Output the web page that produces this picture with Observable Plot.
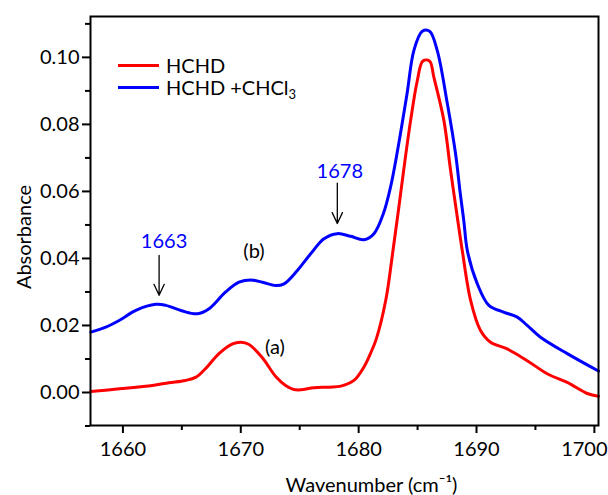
<!DOCTYPE html>
<html>
<head>
<meta charset="utf-8">
<script src="https://cdn.jsdelivr.net/npm/d3@7"></script>
<script src="https://cdn.jsdelivr.net/npm/@observablehq/plot@0.6"></script>
<style>
  body { margin: 0; background: #fff; }
  #wrap { position: relative; width: 608px; height: 495px; font-family: Lato, sans-serif; }
  #legend { position: absolute; left: 118px; top: 54px; font-size: 20px; color: #000; }
  .row { display: flex; align-items: center; height: 22px; white-space: nowrap; }
  .sw { width: 41px; height: 3px; margin-right: 7px; }
  sub { font-size: 13px; line-height: 0; vertical-align: -4px; }
</style>
</head>
<body>
<div id="wrap"></div>
<script>
// Series (a): HCHD
const wavenumberA = [1657.27, 1659.7, 1662.5, 1663.9, 1665.3, 1666.2, 1667.0, 1668.15, 1669.3, 1670.0, 1670.7, 1671.8, 1673.0, 1673.8, 1674.5, 1675.1, 1676.2, 1677.5, 1678.5, 1679.6, 1680.45, 1681.0, 1681.5, 1682.3, 1682.9, 1683.4, 1683.82, 1684.41, 1684.98, 1685.45, 1686.02, 1686.38, 1687.23, 1687.8, 1688.37, 1688.79, 1689.5, 1690.34, 1691.19, 1692.6, 1694.3, 1696.0, 1697.7, 1699.4, 1700.35];
const absorbanceA = [0.0003, 0.0011, 0.0021, 0.0029, 0.0036, 0.0046, 0.0071, 0.0116, 0.0145, 0.0150, 0.0143, 0.0105, 0.0046, 0.0021, 0.0009, 0.0008, 0.0014, 0.0016, 0.0019, 0.0036, 0.0076, 0.0116, 0.0160, 0.0275, 0.0420, 0.0550, 0.0663, 0.0812, 0.0931, 0.0989, 0.0989, 0.0941, 0.0812, 0.0663, 0.0523, 0.0424, 0.0275, 0.0185, 0.0150, 0.0130, 0.0095, 0.0056, 0.0030, -0.0003, -0.0011];

// Series (b): HCHD + CHCl3
const wavenumberB = [1657.28, 1658.55, 1659.68, 1661.10, 1662.79, 1663.64, 1665.05, 1666.32, 1667.31, 1668.72, 1669.85, 1670.84, 1671.83, 1672.96, 1673.67, 1674.80, 1675.93, 1677.06, 1678.19, 1679.32, 1680.45, 1681.3, 1682.1, 1682.7, 1683.3, 1684.1, 1684.69, 1685.40, 1686.02, 1686.67, 1687.52, 1688.22, 1688.6, 1688.93, 1689.22, 1690.06, 1691.05, 1692.29, 1693.46, 1694.30, 1695.43, 1697.70, 1700.35];
const absorbanceB = [0.0180, 0.0195, 0.0215, 0.0245, 0.0263, 0.0260, 0.0243, 0.0235, 0.0250, 0.0300, 0.0329, 0.0336, 0.0329, 0.0319, 0.0324, 0.0364, 0.0414, 0.0459, 0.0474, 0.0466, 0.0456, 0.0474, 0.0534, 0.0612, 0.0722, 0.0890, 0.1021, 0.1078, 0.1078, 0.1020, 0.0863, 0.0713, 0.0600, 0.0510, 0.0424, 0.0325, 0.0260, 0.0240, 0.0225, 0.0200, 0.0165, 0.0116, 0.0064];

const seriesNames = ["HCHD", "HCHD +CHCl3"];
const seriesColors = ["#ff0000", "#0000ff"];

// Axis ticks
const xTicks = [1660, 1670, 1680, 1690, 1700];
const xMinorTicks = [1665, 1675, 1685, 1695];
const yTicks = [0.00, 0.02, 0.04, 0.06, 0.08, 0.10];
const yMinorTicks = [-0.01, 0.01, 0.03, 0.05, 0.07, 0.09, 0.11];

// Peak annotations (blue numbers with arrows)
const peakText = ["1663", "1678"];
const peakTextX = [1663.49, 1678.4];
const peakTextY = [0.0449, 0.0658];
const arrowX = [1663.07, 1678.19];
const arrowTop = [0.0409, 0.0625];
const arrowTip = [0.0290, 0.0504];

// Curve labels
const curveText = ["(a)", "(b)"];
const curveTextX = [1672.9, 1671.12];
const curveTextY = [0.0135, 0.0419];

const rowsA = wavenumberA.map((x, i) => ({x, y: absorbanceA[i]}));
const rowsB = wavenumberB.map((x, i) => ({x, y: absorbanceB[i]}));
const peaks = peakText.map((t, i) => ({t, x: peakTextX[i], y: peakTextY[i]}));
const arrows = arrowX.map((x, i) => ({x, y1: arrowTop[i], y2: arrowTip[i]}));
const curveLabels = curveText.map((t, i) => ({t, x: curveTextX[i], y: curveTextY[i]}));

const lastTick = xTicks[xTicks.length - 1];

const chart = Plot.plot({
  width: 608,
  height: 495,
  marginLeft: 90,
  marginRight: 10,
  marginTop: 16,
  marginBottom: 70,
  style: {fontFamily: "Lato, sans-serif", fontSize: "20px", color: "#000", background: "#fff"},
  x: {domain: [1657.25, 1700.35]},
  y: {domain: [-0.00985, 0.1122]},
  marks: [
    Plot.axisY({ticks: yTicks, tickFormat: d3.format(".2f"), tickSize: 8, tickPadding: 3, strokeWidth: 2, label: null, fontSize: 20}),
    Plot.axisY({ticks: yMinorTicks, tickFormat: () => "", tickSize: 5, strokeWidth: 2, label: null}),
    Plot.axisX({ticks: xTicks, tickFormat: d => d === lastTick ? "" : String(d), tickSize: 8, tickPadding: 8, strokeWidth: 2, label: null, fontSize: 20}),
    Plot.axisX({ticks: [lastTick], tickFormat: d => String(d), tickSize: 0, tickPadding: 16, dx: -10, label: null, fontSize: 20}),
    Plot.axisX({ticks: xMinorTicks, tickFormat: () => "", tickSize: 5, strokeWidth: 2, label: null}),
    Plot.line(rowsA, {x: "x", y: "y", stroke: seriesColors[0], strokeWidth: 3, curve: "catmull-rom"}),
    Plot.line(rowsB, {x: "x", y: "y", stroke: seriesColors[1], strokeWidth: 3, curve: "catmull-rom"}),
    Plot.frame({stroke: "#000", strokeWidth: 2}),
    Plot.arrow(arrows, {x1: "x", x2: "x", y1: "y1", y2: "y2", stroke: "#000", strokeWidth: 1.3, headAngle: 50, headLength: 14}),
    Plot.text(peaks, {x: "x", y: "y", text: "t", fill: seriesColors[1], fontSize: 20}),
    Plot.text(curveLabels, {x: "x", y: "y", text: "t", fill: "#000", fontSize: 20}),
    Plot.text(["Absorbance"], {text: d => d, frameAnchor: "left", rotate: -90, dx: -66, dy: 16, textAnchor: "middle", lineAnchor: "middle", fontSize: 20}),
    Plot.text(["Wavenumber (cm⁻¹)"], {text: d => d, frameAnchor: "bottom", dx: 27, dy: 60, textAnchor: "middle", lineAnchor: "middle", fontSize: 20})
  ]
});

const wrap = document.getElementById("wrap");
wrap.appendChild(chart);

const legend = document.createElement("div");
legend.id = "legend";
seriesNames.forEach((name, i) => {
  const row = document.createElement("div");
  row.className = "row";
  const sw = document.createElement("div");
  sw.className = "sw";
  sw.style.background = seriesColors[i];
  const label = document.createElement("span");
  const m = name.match(/^(.*?)(\d+)$/);
  if (m) {
    label.appendChild(document.createTextNode(m[1]));
    const sub = document.createElement("sub");
    sub.textContent = m[2];
    label.appendChild(sub);
  } else {
    label.textContent = name;
  }
  row.appendChild(sw);
  row.appendChild(label);
  legend.appendChild(row);
});
wrap.appendChild(legend);
</script>
</body>
</html>
